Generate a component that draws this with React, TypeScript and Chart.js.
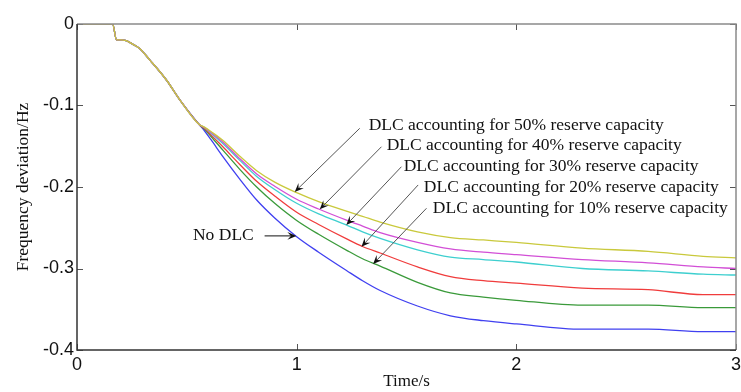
import React, { useEffect, useRef } from "react";
import { Chart, registerables } from "chart.js";

Chart.register(...registerables);

// Shared pre-disturbance / common part of every curve
const commonTime = [0, 0.162, 0.18, 0.2, 0.224, 0.255, 0.285, 0.331, 0.407, 0.468, 0.555];
const commonDev = [0, 0, -0.0195, -0.0195, -0.0205, -0.025, -0.03, -0.044, -0.0687, -0.093, -0.123];

// Time points after the curves split
const splitTime = [0.58, 0.61, 0.665, 0.74, 0.818, 0.9, 1.0, 1.1, 1.23, 1.3, 1.38, 1.55, 1.7, 1.85, 2.0, 2.3, 2.6, 2.85, 3.0];

const dlc50 = [-0.1265, -0.132, -0.143, -0.162, -0.18, -0.194, -0.207, -0.218, -0.23, -0.236, -0.243, -0.255, -0.262, -0.265, -0.268, -0.275, -0.279, -0.285, -0.287];
const dlc40 = [-0.127, -0.133, -0.145, -0.165, -0.184, -0.199, -0.215, -0.227, -0.241, -0.248, -0.256, -0.268, -0.276, -0.28, -0.283, -0.289, -0.293, -0.298, -0.3];
const dlc30 = [-0.127, -0.134, -0.147, -0.167, -0.187, -0.203, -0.22, -0.233, -0.247, -0.255, -0.263, -0.277, -0.286, -0.289, -0.292, -0.3, -0.303, -0.307, -0.308];
const dlc20 = [-0.128, -0.136, -0.151, -0.172, -0.193, -0.211, -0.231, -0.246, -0.264, -0.273, -0.281, -0.298, -0.31, -0.315, -0.318, -0.324, -0.326, -0.332, -0.332];
const dlc10 = [-0.129, -0.138, -0.155, -0.178, -0.2, -0.22, -0.241, -0.258, -0.278, -0.288, -0.297, -0.317, -0.33, -0.335, -0.339, -0.345, -0.345, -0.348, -0.348];
const noDlc = [-0.131, -0.142, -0.163, -0.19, -0.216, -0.238, -0.261, -0.28, -0.303, -0.315, -0.327, -0.346, -0.358, -0.364, -0.368, -0.3745, -0.3745, -0.3775, -0.3775];

const seriesNames = [
  "DLC accounting for 50% reserve capacity",
  "DLC accounting for 40% reserve capacity",
  "DLC accounting for 30% reserve capacity",
  "DLC accounting for 20% reserve capacity",
  "DLC accounting for 10% reserve capacity",
  "No DLC",
];
const seriesValues = [dlc50, dlc40, dlc30, dlc20, dlc10, noDlc];
const seriesColors = ["#c9c93c", "#d24fd6", "#3ecfcf", "#f03c3c", "#3a9a3a", "#4040f0"];

const xTickValues = [0, 1, 2, 3];
const yTickValues = [0, -0.1, -0.2, -0.3, -0.4];
const xTitle = "Time/s";
const yTitle = "Frequency deviation/Hz";

// Annotation labels (data coordinates)
const annotationText = seriesNames;
const annotationTextAt = [
  [1.328, -0.124],
  [1.41, -0.1485],
  [1.487, -0.1742],
  [1.579, -0.2],
  [1.62, -0.2258],
  [0.528, -0.26],
];
const arrowFrom = [
  [1.287, -0.128],
  [1.386, -0.1506],
  [1.477, -0.1751],
  [1.553, -0.1975],
  [1.591, -0.2261],
  [0.854, -0.26],
];
const arrowTo = [
  [0.991, -0.206],
  [1.105, -0.2274],
  [1.226, -0.2466],
  [1.295, -0.2733],
  [1.348, -0.2945],
  [0.9986, -0.26],
];

const overlayPlugin = {
  id: "overlay",
  afterDatasetsDraw(chart: any) {
    const { ctx, chartArea: a, scales } = chart;
    const xs = scales.x;
    const ys = scales.y;
    ctx.save();
    // inner tick marks
    ctx.strokeStyle = "#555";
    ctx.lineWidth = 1;
    const tl = 6;
    xTickValues.forEach((v) => {
      const px = Math.round(xs.getPixelForValue(v)) + 0.5;
      ctx.beginPath();
      ctx.moveTo(px, a.bottom);
      ctx.lineTo(px, a.bottom - tl);
      ctx.moveTo(px, a.top);
      ctx.lineTo(px, a.top + tl);
      ctx.stroke();
    });
    yTickValues.forEach((v) => {
      const py = Math.round(ys.getPixelForValue(v)) + 0.5;
      ctx.beginPath();
      ctx.moveTo(a.left, py);
      ctx.lineTo(a.left + tl, py);
      ctx.moveTo(a.right, py);
      ctx.lineTo(a.right - tl, py);
      ctx.stroke();
    });
    // box
    ctx.lineWidth = 1.5;
    ctx.strokeStyle = "#8a8a8a";
    ctx.beginPath();
    ctx.moveTo(a.left, a.top);
    ctx.lineTo(a.right, a.top);
    ctx.lineTo(a.right, a.bottom);
    ctx.stroke();
    ctx.strokeStyle = "#333";
    ctx.beginPath();
    ctx.moveTo(a.right, a.bottom);
    ctx.lineTo(a.left, a.bottom);
    ctx.lineTo(a.left, a.top);
    ctx.stroke();

    // annotation texts
    ctx.font = '17.5px "Liberation Serif"';
    ctx.fillStyle = "#111";
    ctx.textAlign = "left";
    ctx.textBaseline = "middle";
    annotationText.forEach((t, i) => {
      const [tx, ty] = annotationTextAt[i];
      ctx.fillText(t, xs.getPixelForValue(tx), ys.getPixelForValue(ty));
    });
    // arrows
    arrowFrom.forEach((f, i) => {
      const x1 = xs.getPixelForValue(f[0]);
      const y1 = ys.getPixelForValue(f[1]);
      const x2 = xs.getPixelForValue(arrowTo[i][0]);
      const y2 = ys.getPixelForValue(arrowTo[i][1]);
      const ang = Math.atan2(y2 - y1, x2 - x1);
      const hl = 9;
      const hw = 3.8;
      ctx.strokeStyle = i === 5 ? "#111" : "#555";
      ctx.lineWidth = 1;
      ctx.beginPath();
      ctx.moveTo(x1, y1);
      ctx.lineTo(x2 - Math.cos(ang) * hl * 0.6, y2 - Math.sin(ang) * hl * 0.6);
      ctx.stroke();
      ctx.fillStyle = "#111";
      ctx.beginPath();
      ctx.moveTo(x2, y2);
      const bx = x2 - Math.cos(ang) * hl;
      const by = y2 - Math.sin(ang) * hl;
      ctx.lineTo(bx + Math.sin(ang) * hw, by - Math.cos(ang) * hw);
      ctx.lineTo(x2 - Math.cos(ang) * hl * 0.6, y2 - Math.sin(ang) * hl * 0.6);
      ctx.lineTo(bx - Math.sin(ang) * hw, by + Math.cos(ang) * hw);
      ctx.closePath();
      ctx.fill();
    });
    ctx.restore();
  },
};

export default function App() {
  const canvasRef = useRef<HTMLCanvasElement | null>(null);

  useEffect(() => {
    if (!canvasRef.current) return;
    const datasets = seriesNames.map((name, i) => {
      const data = commonTime.map((t, k) => ({ x: t, y: commonDev[k] }));
      splitTime.forEach((t, k) => data.push({ x: t, y: seriesValues[i][k] }));
      return {
        label: name,
        data,
        borderColor: seriesColors[i],
        backgroundColor: seriesColors[i],
        borderWidth: 1.3,
        pointRadius: 0,
        fill: false,
        cubicInterpolationMode: "monotone" as const,
      };
    });

    const chart = new Chart(canvasRef.current, {
      type: "line",
      data: { datasets },
      options: {
        animation: false,
        responsive: true,
        maintainAspectRatio: false,
        devicePixelRatio: 1,
        layout: { padding: { left: 0, top: 24, right: 5, bottom: 0 } },
        plugins: { legend: { display: false }, tooltip: { enabled: false } },
        scales: {
          x: {
            type: "linear",
            min: 0,
            max: 3,
            grid: { display: false, drawTicks: false },
            border: { display: false },
            ticks: {
              stepSize: 1,
              padding: 4,
              maxRotation: 0,
              color: "#111",
              font: { family: '"Liberation Sans", Arial, sans-serif', size: 18 },
              callback: (v: any) => String(Math.round(Number(v))),
            },
            title: {
              display: true,
              text: xTitle,
              color: "#111",
              font: { family: '"Liberation Serif", serif', size: 17 },
              padding: { top: 0, bottom: 0 },
            },
            afterFit: (s: any) => {
              s.height = 42;
              s.paddingLeft = 0;
              s.paddingRight = 0;
            },
          },
          y: {
            type: "linear",
            min: -0.4,
            max: 0,
            grid: { display: false, drawTicks: false },
            border: { display: false },
            ticks: {
              stepSize: 0.1,
              padding: 3,
              color: "#111",
              font: { family: '"Liberation Sans", Arial, sans-serif', size: 18 },
              callback: (v: any) => {
                const r = Math.round(Number(v) * 10) / 10;
                return r === 0 ? "0" : r.toFixed(1);
              },
            },
            title: {
              display: true,
              text: yTitle,
              color: "#111",
              font: { family: '"Liberation Serif", serif', size: 17.5 },
              padding: { top: 12.5, bottom: 0 },
            },
            afterFit: (s: any) => {
              s.width = 77;
              s.paddingTop = 0;
              s.paddingBottom = 0;
            },
          },
        },
      },
      plugins: [overlayPlugin],
    });
    return () => chart.destroy();
  }, []);

  return (
    <div style={{ position: "absolute", left: 0, top: 0, width: 741, height: 392, background: "#fff" }}>
      <canvas ref={canvasRef} />
    </div>
  );
}
